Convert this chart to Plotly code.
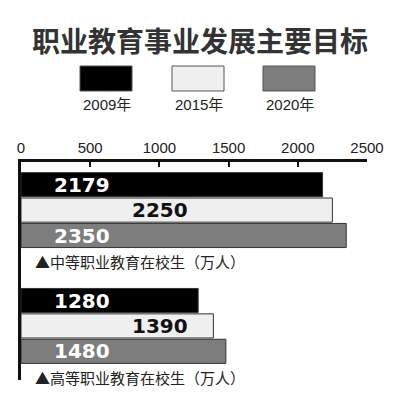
import plotly.graph_objects as go

# ---- data ----
years = ["2009年", "2015年", "2020年"]
categories = ["▲中等职业教育在校生（万人）", "▲高等职业教育在校生（万人）"]
v2009 = [2179, 1280]
v2015 = [2250, 1390]
v2020 = [2350, 1480]
tick_vals = [0, 500, 1000, 1500, 2000, 2500]
tick_text = ["0", "500", "1000", "1500", "2000", "2500"]
title = "职业教育事业发展主要目标"

# ---- styling / layout ----
W, H = 400, 400
colors = ["#000000", "#efefef", "#7d7d7d"]
text_colors = ["#ffffff", "#111111", "#ffffff"]
label_x = [441, 1004, 441]   # x (data units) of the value labels
GROUP_STEP = 4.56
series = [v2009, v2015, v2020]

fig = go.Figure()
for i, (name, vals) in enumerate(zip(years, series)):
    ypos = [g * GROUP_STEP + i for g in range(len(categories))]
    fig.add_trace(go.Bar(
        x=vals, y=ypos, orientation="h", name=name,
        marker=dict(color=colors[i], line=dict(color="#333333", width=1)),
        width=0.95, showlegend=False, hoverinfo="skip",
    ))
    for g, v in enumerate(vals):
        fig.add_annotation(
            x=label_x[i], y=ypos[g], xref="x", yref="y", text=f"<b>{v}</b>",
            showarrow=False, xanchor="center", yanchor="middle",
            font=dict(family="DejaVu Sans", size=20, color=text_colors[i]),
        )

for g, cat in enumerate(categories):
    fig.add_annotation(
        x=33 / W, y=g * GROUP_STEP + 3.03, xref="paper", yref="y",
        text=cat, showarrow=False, xanchor="left", yanchor="middle",
        font=dict(family="Noto Sans CJK SC", size=15, color="#222222"),
    )

# legend (drawn manually)
leg_x = [80, 172, 263]
for i, name in enumerate(years):
    x0 = leg_x[i]
    fig.add_shape(type="rect", xref="paper", yref="paper",
                  x0=x0 / W, x1=(x0 + 52) / W, y0=1 - 91 / H, y1=1 - 66 / H,
                  fillcolor=colors[i], line=dict(color="#555555", width=1))
    fig.add_annotation(x=(x0 + 1) / W, y=1 - 104 / H, xref="paper", yref="paper",
                       text=name, showarrow=False, xanchor="left", yanchor="middle",
                       font=dict(family="Liberation Sans, Noto Sans CJK SC", size=15, color="#222222"))

fig.add_annotation(x=0.5, y=1 - 40 / H, xref="paper", yref="paper",
                   text=f"<b>{title}</b>", showarrow=False,
                   xanchor="center", yanchor="middle",
                   font=dict(family="Noto Sans CJK SC", size=28, color="#333333"))

px_per = 25.4
y_top = (162 - 184.7) / px_per
y_bot = (380 - 184.7) / px_per

fig.update_layout(
    width=W, height=H, margin=dict(l=0, r=0, t=0, b=0),
    paper_bgcolor="white", plot_bgcolor="white",
    barmode="overlay",
    xaxis=dict(domain=[21 / W, 367 / W], range=[0, 2500], side="top",
               tickvals=tick_vals, ticktext=tick_text, ticks="inside",
               ticklen=5, tickwidth=2, tickcolor="#111111",
               showline=True, linecolor="#111111", linewidth=2.5,
               showgrid=False, zeroline=False, fixedrange=True, automargin=False,
               tickfont=dict(family="Liberation Sans", size=15, color="#222222")),
    yaxis=dict(domain=[1 - 380 / H, 1 - 162 / H], range=[y_bot, y_top],
               showticklabels=False, ticks="", showgrid=False, zeroline=False,
               automargin=False,
               showline=True, linecolor="#111111", linewidth=2.5, fixedrange=True),
)

fig.write_html(
    "out.html",
    config={"displayModeBar": False, "responsive": False},
    post_script="document.body.style.margin='0';document.body.style.overflow='hidden';",
)
